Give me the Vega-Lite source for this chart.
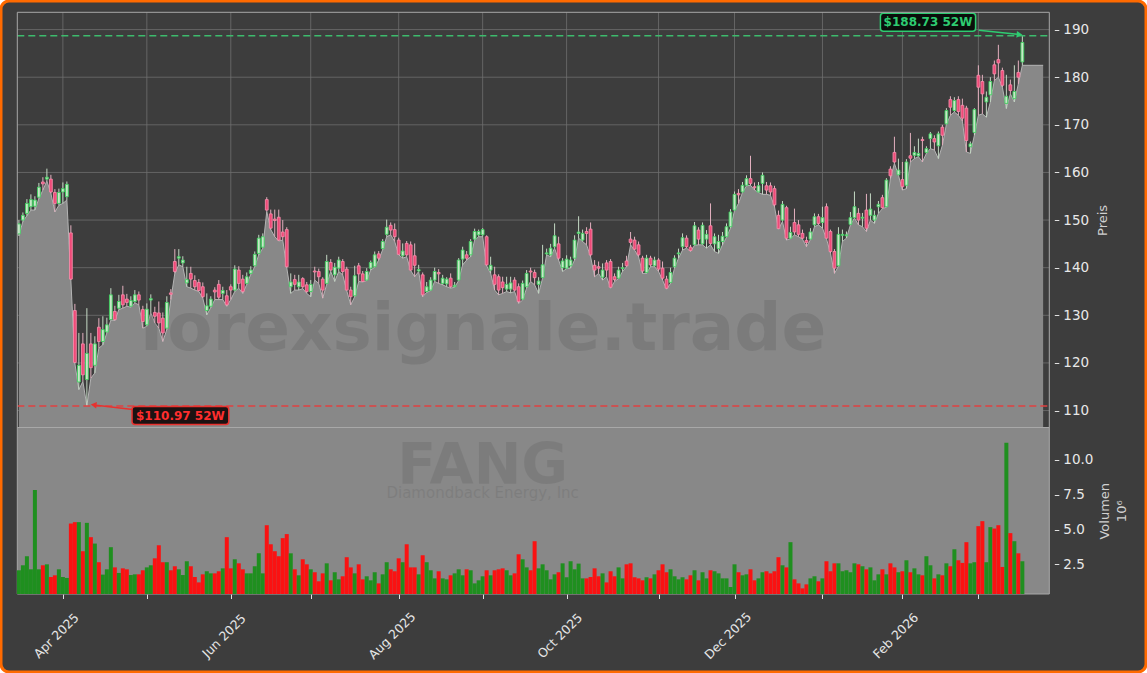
{
"$schema":"https://vega.github.io/schema/vega-lite/v6.json",
"width":1145,"height":671,"padding":1,"autosize":{"type":"none"},
"background":"#ffffff",
"config":{"view":{"fill":"#3d3d3d","stroke":"#ff6a00","strokeWidth":3,"cornerRadius":8},"font":"DejaVu Sans"},
"data":{"name":"ohlc"},
"datasets":{"ohlc":[
{"d":"2025-03-17","i":0,"o":147.1,"h":150.0,"l":146.7,"c":149.2,"v":2.07},
{"d":"2025-03-18","i":1,"o":150.0,"h":151.6,"l":149.7,"c":151.0,"v":2.43},
{"d":"2025-03-19","i":2,"o":151.4,"h":154.4,"l":150.9,"c":153.5,"v":3.08},
{"d":"2025-03-20","i":3,"o":152.8,"h":155.4,"l":152.1,"c":154.3,"v":2.14},
{"d":"2025-03-21","i":4,"o":152.9,"h":155.0,"l":152.1,"c":154.2,"v":7.84},
{"d":"2025-03-24","i":5,"o":154.8,"h":157.8,"l":154.5,"c":156.9,"v":2.14},
{"d":"2025-03-25","i":6,"o":158.0,"h":159.0,"l":156.3,"c":157.6,"v":2.43},
{"d":"2025-03-26","i":7,"o":158.6,"h":160.8,"l":158.2,"c":159.0,"v":2.50},
{"d":"2025-03-27","i":8,"o":158.6,"h":159.5,"l":155.6,"c":155.9,"v":1.59},
{"d":"2025-03-28","i":9,"o":155.8,"h":156.5,"l":151.7,"c":153.5,"v":1.71},
{"d":"2025-03-31","i":10,"o":153.5,"h":156.6,"l":153.1,"c":155.8,"v":2.14},
{"d":"2025-04-01","i":11,"o":155.9,"h":157.9,"l":153.5,"c":156.6,"v":1.59},
{"d":"2025-04-02","i":12,"o":154.9,"h":158.1,"l":154.2,"c":157.5,"v":1.52},
{"d":"2025-04-03","i":13,"o":147.3,"h":148.9,"l":137.4,"c":137.6,"v":5.43},
{"d":"2025-04-04","i":14,"o":131.0,"h":132.4,"l":119.9,"c":120.1,"v":5.53},
{"d":"2025-04-07","i":15,"o":116.0,"h":126.3,"l":114.4,"c":119.5,"v":5.53},
{"d":"2025-04-08","i":16,"o":124.0,"h":126.3,"l":116.1,"c":117.5,"v":3.44},
{"d":"2025-04-09","i":17,"o":116.5,"h":131.5,"l":110.97,"c":122.0,"v":5.48},
{"d":"2025-04-10","i":18,"o":124.0,"h":126.3,"l":116.8,"c":119.0,"v":4.45},
{"d":"2025-04-11","i":19,"o":119.5,"h":125.6,"l":117.9,"c":124.0,"v":3.99},
{"d":"2025-04-14","i":20,"o":127.5,"h":129.4,"l":123.1,"c":124.5,"v":2.65},
{"d":"2025-04-15","i":21,"o":124.5,"h":129.8,"l":123.8,"c":127.0,"v":1.76},
{"d":"2025-04-16","i":22,"o":126.5,"h":129.5,"l":126.3,"c":128.0,"v":2.14},
{"d":"2025-04-17","i":23,"o":129.1,"h":135.7,"l":129.0,"c":134.3,"v":3.73},
{"d":"2025-04-21","i":24,"o":130.8,"h":132.0,"l":128.9,"c":129.1,"v":2.28},
{"d":"2025-04-22","i":25,"o":131.5,"h":134.3,"l":131.2,"c":132.9,"v":1.88},
{"d":"2025-04-23","i":26,"o":134.3,"h":136.2,"l":131.5,"c":132.2,"v":2.21},
{"d":"2025-04-24","i":27,"o":133.4,"h":134.5,"l":131.9,"c":132.7,"v":2.14},
{"d":"2025-04-25","i":28,"o":131.9,"h":134.0,"l":131.7,"c":133.1,"v":1.73},
{"d":"2025-04-28","i":29,"o":132.9,"h":135.3,"l":132.6,"c":134.3,"v":1.78},
{"d":"2025-04-29","i":30,"o":134.3,"h":135.0,"l":132.2,"c":133.2,"v":1.78},
{"d":"2025-04-30","i":31,"o":131.2,"h":132.0,"l":127.3,"c":128.7,"v":2.07},
{"d":"2025-05-01","i":32,"o":128.0,"h":132.5,"l":127.7,"c":131.3,"v":2.28},
{"d":"2025-05-02","i":33,"o":133.2,"h":134.4,"l":130.5,"c":133.5,"v":2.43},
{"d":"2025-05-05","i":34,"o":130.6,"h":131.8,"l":128.4,"c":129.8,"v":2.93},
{"d":"2025-05-06","i":35,"o":130.5,"h":132.9,"l":127.3,"c":128.4,"v":3.87},
{"d":"2025-05-07","i":36,"o":129.4,"h":130.6,"l":124.5,"c":126.3,"v":2.65},
{"d":"2025-05-08","i":37,"o":127.3,"h":134.0,"l":127.0,"c":132.7,"v":2.65},
{"d":"2025-05-09","i":38,"o":134.7,"h":135.5,"l":133.3,"c":134.4,"v":2.07},
{"d":"2025-05-12","i":39,"o":141.3,"h":143.9,"l":138.8,"c":139.2,"v":2.36},
{"d":"2025-05-13","i":40,"o":142.0,"h":143.9,"l":140.6,"c":142.3,"v":2.14},
{"d":"2025-05-14","i":41,"o":141.0,"h":142.4,"l":140.2,"c":141.6,"v":1.73},
{"d":"2025-05-15","i":42,"o":136.8,"h":140.2,"l":136.0,"c":137.5,"v":2.72},
{"d":"2025-05-16","i":43,"o":138.8,"h":140.2,"l":135.7,"c":137.6,"v":2.36},
{"d":"2025-05-19","i":44,"o":137.3,"h":138.4,"l":135.3,"c":136.0,"v":1.59},
{"d":"2025-05-20","i":45,"o":136.9,"h":137.6,"l":135.0,"c":135.2,"v":1.20},
{"d":"2025-05-21","i":46,"o":136.0,"h":136.9,"l":133.6,"c":133.9,"v":1.78},
{"d":"2025-05-22","i":47,"o":131.0,"h":134.6,"l":130.1,"c":132.0,"v":2.00},
{"d":"2025-05-23","i":48,"o":131.9,"h":134.0,"l":131.6,"c":133.4,"v":1.85},
{"d":"2025-05-27","i":49,"o":135.3,"h":135.9,"l":133.3,"c":134.9,"v":1.85},
{"d":"2025-05-28","i":50,"o":136.5,"h":137.4,"l":133.3,"c":133.8,"v":2.00},
{"d":"2025-05-29","i":51,"o":134.6,"h":136.0,"l":133.3,"c":135.2,"v":2.21},
{"d":"2025-05-30","i":52,"o":134.1,"h":135.3,"l":131.9,"c":132.2,"v":4.45},
{"d":"2025-06-02","i":53,"o":136.0,"h":136.5,"l":133.3,"c":135.3,"v":2.21},
{"d":"2025-06-03","i":54,"o":135.3,"h":140.5,"l":135.0,"c":139.7,"v":2.86},
{"d":"2025-06-04","i":55,"o":139.5,"h":140.3,"l":135.7,"c":136.7,"v":2.57},
{"d":"2025-06-05","i":56,"o":137.6,"h":138.5,"l":134.6,"c":135.0,"v":2.14},
{"d":"2025-06-06","i":57,"o":136.7,"h":139.0,"l":136.5,"c":138.1,"v":1.85},
{"d":"2025-06-09","i":58,"o":138.8,"h":140.3,"l":138.6,"c":139.5,"v":1.85},
{"d":"2025-06-10","i":59,"o":140.4,"h":143.4,"l":140.2,"c":142.8,"v":2.36},
{"d":"2025-06-11","i":60,"o":143.0,"h":146.9,"l":142.7,"c":146.2,"v":3.29},
{"d":"2025-06-12","i":61,"o":144.3,"h":147.2,"l":144.1,"c":146.5,"v":1.85},
{"d":"2025-06-13","i":62,"o":154.3,"h":154.8,"l":151.8,"c":152.1,"v":5.31},
{"d":"2025-06-16","i":63,"o":151.3,"h":152.2,"l":148.0,"c":148.3,"v":3.94},
{"d":"2025-06-17","i":64,"o":150.2,"h":152.2,"l":146.5,"c":149.9,"v":3.44},
{"d":"2025-06-18","i":65,"o":150.6,"h":152.2,"l":145.6,"c":145.8,"v":3.08},
{"d":"2025-06-20","i":66,"o":147.5,"h":150.0,"l":145.8,"c":146.5,"v":4.38},
{"d":"2025-06-23","i":67,"o":148.0,"h":148.5,"l":140.0,"c":140.2,"v":4.67},
{"d":"2025-06-24","i":68,"o":136.0,"h":138.8,"l":134.6,"c":137.0,"v":3.29},
{"d":"2025-06-25","i":69,"o":137.5,"h":138.5,"l":135.3,"c":136.5,"v":2.14},
{"d":"2025-06-26","i":70,"o":136.0,"h":138.5,"l":135.3,"c":137.0,"v":1.71},
{"d":"2025-06-27","i":71,"o":137.7,"h":138.0,"l":135.6,"c":136.0,"v":2.86},
{"d":"2025-06-30","i":72,"o":136.4,"h":137.0,"l":134.6,"c":135.0,"v":2.50},
{"d":"2025-07-01","i":73,"o":135.0,"h":137.4,"l":133.9,"c":136.5,"v":2.14},
{"d":"2025-07-02","i":74,"o":139.3,"h":140.2,"l":137.4,"c":139.1,"v":1.93},
{"d":"2025-07-03","i":75,"o":139.2,"h":139.8,"l":136.7,"c":138.1,"v":1.28},
{"d":"2025-07-07","i":76,"o":137.6,"h":138.0,"l":133.6,"c":135.3,"v":1.85},
{"d":"2025-07-08","i":77,"o":136.7,"h":142.7,"l":136.5,"c":141.3,"v":2.57},
{"d":"2025-07-09","i":78,"o":141.1,"h":141.8,"l":139.2,"c":139.5,"v":1.35},
{"d":"2025-07-10","i":79,"o":138.5,"h":141.0,"l":137.1,"c":140.1,"v":1.93},
{"d":"2025-07-11","i":80,"o":139.9,"h":142.3,"l":139.2,"c":141.6,"v":1.42},
{"d":"2025-07-14","i":81,"o":141.3,"h":141.8,"l":138.5,"c":139.2,"v":1.64},
{"d":"2025-07-15","i":82,"o":139.7,"h":140.2,"l":135.2,"c":135.3,"v":3.01},
{"d":"2025-07-16","i":83,"o":135.3,"h":136.0,"l":132.2,"c":133.9,"v":2.28},
{"d":"2025-07-17","i":84,"o":134.1,"h":140.4,"l":133.9,"c":138.3,"v":1.85},
{"d":"2025-07-18","i":85,"o":140.4,"h":141.0,"l":137.1,"c":138.7,"v":2.50},
{"d":"2025-07-21","i":86,"o":138.7,"h":139.3,"l":137.0,"c":137.1,"v":1.42},
{"d":"2025-07-22","i":87,"o":137.4,"h":139.9,"l":137.3,"c":139.2,"v":1.64},
{"d":"2025-07-23","i":88,"o":139.9,"h":141.5,"l":139.5,"c":141.1,"v":1.35},
{"d":"2025-07-24","i":89,"o":140.2,"h":143.4,"l":140.1,"c":142.7,"v":1.93},
{"d":"2025-07-25","i":90,"o":142.9,"h":143.5,"l":141.6,"c":142.0,"v":1.13},
{"d":"2025-07-28","i":91,"o":144.0,"h":146.0,"l":143.8,"c":145.5,"v":1.78},
{"d":"2025-07-29","i":92,"o":147.0,"h":150.1,"l":146.5,"c":148.5,"v":2.65},
{"d":"2025-07-30","i":93,"o":148.9,"h":149.5,"l":146.9,"c":147.9,"v":2.14},
{"d":"2025-07-31","i":94,"o":148.0,"h":149.3,"l":145.5,"c":146.5,"v":2.00},
{"d":"2025-08-01","i":95,"o":145.8,"h":146.3,"l":142.7,"c":142.8,"v":2.93},
{"d":"2025-08-04","i":96,"o":142.5,"h":145.1,"l":142.0,"c":143.5,"v":2.65},
{"d":"2025-08-05","i":97,"o":145.1,"h":145.6,"l":142.3,"c":142.7,"v":3.94},
{"d":"2025-08-06","i":98,"o":144.8,"h":145.5,"l":139.4,"c":139.5,"v":2.28},
{"d":"2025-08-07","i":99,"o":142.5,"h":145.1,"l":138.1,"c":140.5,"v":2.28},
{"d":"2025-08-08","i":100,"o":139.3,"h":140.6,"l":139.2,"c":139.6,"v":1.78},
{"d":"2025-08-11","i":101,"o":138.5,"h":139.0,"l":133.9,"c":134.3,"v":3.15},
{"d":"2025-08-12","i":102,"o":135.0,"h":137.0,"l":134.8,"c":136.0,"v":2.65},
{"d":"2025-08-13","i":103,"o":135.3,"h":138.0,"l":135.2,"c":137.4,"v":2.07},
{"d":"2025-08-14","i":104,"o":137.4,"h":140.0,"l":137.1,"c":139.2,"v":1.49},
{"d":"2025-08-15","i":105,"o":139.0,"h":139.7,"l":136.7,"c":138.7,"v":2.00},
{"d":"2025-08-18","i":106,"o":136.7,"h":138.5,"l":136.4,"c":137.8,"v":1.49},
{"d":"2025-08-19","i":107,"o":136.6,"h":138.0,"l":136.0,"c":137.6,"v":1.42},
{"d":"2025-08-20","i":108,"o":137.8,"h":138.8,"l":135.7,"c":136.0,"v":1.71},
{"d":"2025-08-21","i":109,"o":136.0,"h":137.0,"l":135.9,"c":136.3,"v":1.85},
{"d":"2025-08-22","i":110,"o":137.4,"h":142.0,"l":137.3,"c":141.6,"v":2.14},
{"d":"2025-08-25","i":111,"o":141.8,"h":144.4,"l":140.6,"c":143.7,"v":1.71},
{"d":"2025-08-26","i":112,"o":142.7,"h":143.5,"l":141.6,"c":142.0,"v":2.14},
{"d":"2025-08-27","i":113,"o":142.7,"h":146.0,"l":142.3,"c":145.5,"v":2.07},
{"d":"2025-08-28","i":114,"o":146.0,"h":148.2,"l":145.8,"c":147.6,"v":1.13},
{"d":"2025-08-29","i":115,"o":146.9,"h":148.0,"l":146.5,"c":147.6,"v":1.35},
{"d":"2025-09-02","i":116,"o":146.9,"h":148.3,"l":146.5,"c":148.0,"v":1.64},
{"d":"2025-09-03","i":117,"o":146.5,"h":146.8,"l":140.4,"c":140.6,"v":2.07},
{"d":"2025-09-04","i":118,"o":139.5,"h":142.3,"l":138.8,"c":140.5,"v":1.71},
{"d":"2025-09-05","i":119,"o":138.5,"h":140.2,"l":135.3,"c":136.5,"v":2.07},
{"d":"2025-09-08","i":120,"o":138.1,"h":138.6,"l":134.3,"c":135.3,"v":2.14},
{"d":"2025-09-09","i":121,"o":137.0,"h":138.1,"l":134.6,"c":135.8,"v":2.21},
{"d":"2025-09-10","i":122,"o":135.5,"h":138.1,"l":135.0,"c":136.5,"v":2.07},
{"d":"2025-09-11","i":123,"o":135.5,"h":138.1,"l":134.7,"c":136.8,"v":1.71},
{"d":"2025-09-12","i":124,"o":137.4,"h":138.0,"l":135.0,"c":135.3,"v":1.85},
{"d":"2025-09-15","i":125,"o":136.0,"h":136.7,"l":132.5,"c":132.9,"v":3.22},
{"d":"2025-09-16","i":126,"o":133.4,"h":137.3,"l":133.2,"c":136.7,"v":2.86},
{"d":"2025-09-17","i":127,"o":136.0,"h":139.5,"l":135.7,"c":138.8,"v":2.28},
{"d":"2025-09-18","i":128,"o":139.3,"h":140.0,"l":137.1,"c":139.1,"v":2.07},
{"d":"2025-09-19","i":129,"o":139.0,"h":139.6,"l":136.4,"c":137.9,"v":4.16},
{"d":"2025-09-22","i":130,"o":136.5,"h":138.0,"l":134.6,"c":137.2,"v":2.21},
{"d":"2025-09-23","i":131,"o":137.9,"h":144.8,"l":137.8,"c":140.6,"v":2.50},
{"d":"2025-09-24","i":132,"o":142.9,"h":144.0,"l":142.7,"c":143.1,"v":2.07},
{"d":"2025-09-25","i":133,"o":142.7,"h":145.0,"l":142.3,"c":144.1,"v":1.42},
{"d":"2025-09-26","i":134,"o":144.4,"h":149.3,"l":144.1,"c":146.7,"v":1.78},
{"d":"2025-09-29","i":135,"o":145.0,"h":146.5,"l":141.6,"c":142.0,"v":1.93},
{"d":"2025-09-30","i":136,"o":140.0,"h":142.0,"l":139.2,"c":141.4,"v":2.57},
{"d":"2025-10-01","i":137,"o":139.9,"h":142.6,"l":139.8,"c":141.8,"v":1.57},
{"d":"2025-10-02","i":138,"o":140.4,"h":142.3,"l":139.9,"c":141.6,"v":2.72},
{"d":"2025-10-03","i":139,"o":142.0,"h":146.8,"l":141.6,"c":145.8,"v":2.14},
{"d":"2025-10-06","i":140,"o":147.2,"h":150.8,"l":146.2,"c":147.5,"v":2.55},
{"d":"2025-10-07","i":141,"o":145.8,"h":148.0,"l":145.5,"c":147.2,"v":1.49},
{"d":"2025-10-08","i":142,"o":147.6,"h":148.5,"l":144.8,"c":147.2,"v":1.49},
{"d":"2025-10-09","i":143,"o":148.1,"h":149.5,"l":142.3,"c":142.7,"v":1.59},
{"d":"2025-10-10","i":144,"o":140.5,"h":141.6,"l":138.1,"c":139.5,"v":2.21},
{"d":"2025-10-13","i":145,"o":140.2,"h":141.3,"l":138.8,"c":139.9,"v":1.64},
{"d":"2025-10-14","i":146,"o":138.0,"h":140.9,"l":137.4,"c":139.5,"v":1.85},
{"d":"2025-10-15","i":147,"o":141.0,"h":141.6,"l":138.1,"c":139.5,"v":1.20},
{"d":"2025-10-16","i":148,"o":141.3,"h":141.8,"l":135.7,"c":135.9,"v":2.00},
{"d":"2025-10-17","i":149,"o":138.1,"h":138.8,"l":137.1,"c":137.5,"v":1.64},
{"d":"2025-10-20","i":150,"o":137.8,"h":140.2,"l":137.7,"c":139.5,"v":2.28},
{"d":"2025-10-21","i":151,"o":139.8,"h":141.0,"l":139.2,"c":140.0,"v":1.49},
{"d":"2025-10-22","i":152,"o":141.4,"h":142.5,"l":140.2,"c":140.4,"v":2.50},
{"d":"2025-10-23","i":153,"o":146.0,"h":147.5,"l":144.8,"c":145.3,"v":2.57},
{"d":"2025-10-24","i":154,"o":145.8,"h":146.5,"l":143.7,"c":143.9,"v":1.57},
{"d":"2025-10-27","i":155,"o":144.8,"h":145.5,"l":142.3,"c":142.7,"v":1.49},
{"d":"2025-10-28","i":156,"o":142.0,"h":142.5,"l":138.8,"c":139.3,"v":1.35},
{"d":"2025-10-29","i":157,"o":139.0,"h":142.7,"l":138.8,"c":142.0,"v":1.57},
{"d":"2025-10-30","i":158,"o":142.0,"h":142.5,"l":140.2,"c":140.6,"v":1.49},
{"d":"2025-10-31","i":159,"o":140.4,"h":142.3,"l":140.2,"c":141.6,"v":1.78},
{"d":"2025-11-03","i":160,"o":141.6,"h":142.0,"l":139.2,"c":139.7,"v":2.07},
{"d":"2025-11-04","i":161,"o":139.9,"h":141.3,"l":137.4,"c":137.8,"v":2.50},
{"d":"2025-11-05","i":162,"o":137.6,"h":138.3,"l":135.5,"c":135.7,"v":1.93},
{"d":"2025-11-06","i":163,"o":136.9,"h":140.0,"l":136.7,"c":139.0,"v":2.14},
{"d":"2025-11-07","i":164,"o":140.2,"h":142.6,"l":139.9,"c":142.0,"v":1.64},
{"d":"2025-11-10","i":165,"o":142.9,"h":144.0,"l":142.0,"c":143.1,"v":1.42},
{"d":"2025-11-11","i":166,"o":144.4,"h":147.2,"l":143.7,"c":146.3,"v":1.57},
{"d":"2025-11-12","i":167,"o":146.2,"h":146.8,"l":144.1,"c":144.4,"v":1.42},
{"d":"2025-11-13","i":168,"o":144.3,"h":144.8,"l":143.4,"c":143.6,"v":1.71},
{"d":"2025-11-14","i":169,"o":144.8,"h":149.6,"l":144.7,"c":148.8,"v":2.07},
{"d":"2025-11-17","i":170,"o":147.9,"h":148.5,"l":144.8,"c":146.0,"v":1.35},
{"d":"2025-11-18","i":171,"o":145.0,"h":149.5,"l":144.8,"c":148.9,"v":1.93},
{"d":"2025-11-19","i":172,"o":146.0,"h":147.9,"l":144.1,"c":147.0,"v":1.49},
{"d":"2025-11-20","i":173,"o":148.8,"h":153.5,"l":144.8,"c":145.1,"v":2.07},
{"d":"2025-11-21","i":174,"o":145.0,"h":147.2,"l":143.4,"c":146.5,"v":2.00},
{"d":"2025-11-24","i":175,"o":144.0,"h":146.9,"l":143.0,"c":145.5,"v":1.85},
{"d":"2025-11-25","i":176,"o":145.5,"h":147.5,"l":144.8,"c":146.6,"v":1.49},
{"d":"2025-11-26","i":177,"o":146.5,"h":149.3,"l":146.4,"c":148.6,"v":1.49},
{"d":"2025-11-28","i":178,"o":148.6,"h":152.3,"l":148.3,"c":151.7,"v":0.87},
{"d":"2025-12-01","i":179,"o":152.1,"h":156.0,"l":152.0,"c":155.4,"v":2.50},
{"d":"2025-12-02","i":180,"o":155.6,"h":156.5,"l":153.5,"c":155.3,"v":1.93},
{"d":"2025-12-03","i":181,"o":155.9,"h":158.0,"l":155.8,"c":157.3,"v":1.71},
{"d":"2025-12-04","i":182,"o":157.3,"h":159.4,"l":157.2,"c":158.7,"v":1.78},
{"d":"2025-12-05","i":183,"o":158.7,"h":163.5,"l":157.3,"c":157.7,"v":2.14},
{"d":"2025-12-08","i":184,"o":157.0,"h":157.9,"l":156.3,"c":156.8,"v":1.35},
{"d":"2025-12-09","i":185,"o":155.9,"h":158.0,"l":155.8,"c":157.2,"v":1.49},
{"d":"2025-12-10","i":186,"o":157.7,"h":160.0,"l":155.4,"c":159.4,"v":1.93},
{"d":"2025-12-11","i":187,"o":157.2,"h":158.0,"l":155.4,"c":156.3,"v":2.00},
{"d":"2025-12-12","i":188,"o":157.2,"h":157.9,"l":155.2,"c":155.9,"v":1.85},
{"d":"2025-12-15","i":189,"o":156.6,"h":157.2,"l":152.8,"c":153.2,"v":2.00},
{"d":"2025-12-16","i":190,"o":151.0,"h":152.0,"l":148.1,"c":148.2,"v":3.01},
{"d":"2025-12-17","i":191,"o":150.0,"h":154.0,"l":149.7,"c":153.3,"v":2.43},
{"d":"2025-12-18","i":192,"o":152.6,"h":153.0,"l":145.8,"c":146.2,"v":2.28},
{"d":"2025-12-19","i":193,"o":146.2,"h":148.6,"l":146.1,"c":147.4,"v":4.09},
{"d":"2025-12-22","i":194,"o":149.5,"h":152.4,"l":146.9,"c":147.5,"v":1.42},
{"d":"2025-12-23","i":195,"o":149.0,"h":150.0,"l":146.5,"c":147.0,"v":1.13},
{"d":"2025-12-24","i":196,"o":147.2,"h":148.0,"l":146.0,"c":146.2,"v":0.77},
{"d":"2025-12-26","i":197,"o":145.7,"h":146.5,"l":144.4,"c":145.3,"v":1.06},
{"d":"2025-12-29","i":198,"o":146.0,"h":148.3,"l":145.9,"c":147.5,"v":1.49},
{"d":"2025-12-30","i":199,"o":149.0,"h":151.4,"l":148.6,"c":150.7,"v":1.64},
{"d":"2025-12-31","i":200,"o":150.7,"h":151.3,"l":149.0,"c":149.3,"v":1.28},
{"d":"2026-01-02","i":201,"o":149.5,"h":152.8,"l":148.3,"c":150.5,"v":1.49},
{"d":"2026-01-05","i":202,"o":152.8,"h":153.5,"l":146.1,"c":146.2,"v":2.72},
{"d":"2026-01-06","i":203,"o":147.6,"h":148.0,"l":143.0,"c":143.4,"v":2.00},
{"d":"2026-01-07","i":204,"o":143.4,"h":143.9,"l":138.8,"c":139.9,"v":2.57},
{"d":"2026-01-08","i":205,"o":140.4,"h":148.5,"l":140.3,"c":147.0,"v":2.57},
{"d":"2026-01-09","i":206,"o":146.8,"h":148.0,"l":145.5,"c":147.0,"v":2.00},
{"d":"2026-01-12","i":207,"o":146.7,"h":147.6,"l":146.2,"c":146.9,"v":2.07},
{"d":"2026-01-13","i":208,"o":149.1,"h":151.7,"l":149.0,"c":150.5,"v":1.93},
{"d":"2026-01-14","i":209,"o":150.5,"h":156.0,"l":150.4,"c":152.8,"v":2.57},
{"d":"2026-01-15","i":210,"o":151.4,"h":152.5,"l":149.0,"c":150.0,"v":2.50},
{"d":"2026-01-16","i":211,"o":150.4,"h":151.5,"l":148.6,"c":150.6,"v":2.36},
{"d":"2026-01-20","i":212,"o":152.1,"h":155.5,"l":147.6,"c":148.3,"v":2.14},
{"d":"2026-01-21","i":213,"o":151.0,"h":155.6,"l":150.0,"c":152.3,"v":2.28},
{"d":"2026-01-22","i":214,"o":150.0,"h":152.0,"l":149.3,"c":151.0,"v":1.35},
{"d":"2026-01-23","i":215,"o":152.8,"h":154.0,"l":151.4,"c":153.3,"v":1.78},
{"d":"2026-01-26","i":216,"o":154.7,"h":155.3,"l":152.4,"c":152.6,"v":2.14},
{"d":"2026-01-27","i":217,"o":152.8,"h":158.8,"l":152.7,"c":158.4,"v":1.78},
{"d":"2026-01-28","i":218,"o":160.7,"h":161.3,"l":158.7,"c":159.3,"v":2.57},
{"d":"2026-01-29","i":219,"o":164.2,"h":167.5,"l":161.9,"c":162.2,"v":2.28},
{"d":"2026-01-30","i":220,"o":159.5,"h":162.9,"l":159.4,"c":160.5,"v":1.93},
{"d":"2026-02-02","i":221,"o":158.5,"h":162.2,"l":156.3,"c":157.0,"v":2.00},
{"d":"2026-02-03","i":222,"o":157.3,"h":162.8,"l":156.6,"c":162.2,"v":2.79},
{"d":"2026-02-04","i":223,"o":163.5,"h":168.3,"l":162.2,"c":163.0,"v":1.93},
{"d":"2026-02-05","i":224,"o":163.6,"h":165.5,"l":162.9,"c":164.2,"v":2.21},
{"d":"2026-02-06","i":225,"o":163.5,"h":167.1,"l":163.3,"c":164.0,"v":1.78},
{"d":"2026-02-09","i":226,"o":166.9,"h":167.5,"l":162.2,"c":166.7,"v":1.71},
{"d":"2026-02-10","i":227,"o":164.2,"h":165.5,"l":164.0,"c":165.0,"v":3.08},
{"d":"2026-02-11","i":228,"o":167.1,"h":168.5,"l":165.0,"c":168.1,"v":2.43},
{"d":"2026-02-12","i":229,"o":167.1,"h":167.8,"l":164.7,"c":166.4,"v":1.49},
{"d":"2026-02-13","i":230,"o":165.6,"h":168.6,"l":162.9,"c":168.1,"v":1.78},
{"d":"2026-02-17","i":231,"o":169.5,"h":170.0,"l":165.7,"c":167.8,"v":1.71},
{"d":"2026-02-18","i":232,"o":170.2,"h":173.5,"l":170.1,"c":173.0,"v":2.57},
{"d":"2026-02-19","i":233,"o":175.3,"h":176.0,"l":172.0,"c":173.7,"v":2.36},
{"d":"2026-02-20","i":234,"o":173.0,"h":175.8,"l":172.7,"c":175.1,"v":3.58},
{"d":"2026-02-23","i":235,"o":175.3,"h":176.0,"l":172.0,"c":172.8,"v":2.79},
{"d":"2026-02-24","i":236,"o":174.1,"h":175.5,"l":170.8,"c":171.4,"v":2.60},
{"d":"2026-02-25","i":237,"o":173.5,"h":174.0,"l":164.3,"c":166.7,"v":4.09},
{"d":"2026-02-26","i":238,"o":165.4,"h":166.5,"l":164.0,"c":166.0,"v":2.57},
{"d":"2026-02-27","i":239,"o":168.4,"h":173.5,"l":167.8,"c":173.2,"v":2.65},
{"d":"2026-03-02","i":240,"o":180.4,"h":182.5,"l":172.0,"c":177.9,"v":5.24},
{"d":"2026-03-03","i":241,"o":179.1,"h":180.5,"l":172.3,"c":176.5,"v":5.60},
{"d":"2026-03-04","i":242,"o":174.8,"h":177.0,"l":171.6,"c":175.8,"v":2.65},
{"d":"2026-03-05","i":243,"o":176.3,"h":180.0,"l":174.8,"c":179.1,"v":5.17},
{"d":"2026-03-06","i":244,"o":182.6,"h":183.5,"l":179.3,"c":180.7,"v":5.07},
{"d":"2026-03-09","i":245,"o":183.7,"h":186.8,"l":180.0,"c":183.0,"v":5.31},
{"d":"2026-03-10","i":246,"o":181.4,"h":182.0,"l":177.9,"c":178.3,"v":2.31},
{"d":"2026-03-11","i":247,"o":174.5,"h":180.5,"l":173.4,"c":176.0,"v":11.23},
{"d":"2026-03-12","i":248,"o":178.4,"h":179.5,"l":176.5,"c":177.2,"v":4.74},
{"d":"2026-03-13","i":249,"o":175.5,"h":182.5,"l":174.8,"c":177.0,"v":4.16},
{"d":"2026-03-16","i":250,"o":181.0,"h":183.5,"l":178.6,"c":180.0,"v":3.29},
{"d":"2026-03-17","i":251,"o":183.2,"h":188.73,"l":182.5,"c":187.3,"v":2.72},
{"i":256.2,"l":182.5}
]},
"layer":[
{"layer":[
 {"data":{"values":[{"m":11},{"m":32},{"m":53},{"m":73},{"m":95},{"m":116},{"m":137},{"m":160},{"m":179},{"m":201},{"m":221},{"m":240}]},
  "mark":{"type":"rule","color":"#6e6e6e","strokeWidth":0.8},
  "encoding":{"x":{"field":"m","type":"quantitative","title":null},"y":{"datum":106.44,"type":"quantitative"},"y2":{"datum":193.63}}},
 {"data":{"values":[{"p":110},{"p":120},{"p":130},{"p":140},{"p":150},{"p":160},{"p":170},{"p":180},{"p":190}]},
  "mark":{"type":"rule","color":"#6e6e6e","strokeWidth":0.8},
  "encoding":{"y":{"field":"p","type":"quantitative"},"x":{"datum":-0.4,"type":"quantitative"},"x2":{"datum":257.74}}},
 {"mark":{"type":"area","color":"#888888","opacity":1,"fillOpacity":1,"line":{"color":"#b4b4b4","strokeWidth":1}},
  "encoding":{
   "x":{"field":"i","type":"quantitative","scale":{"domain":[-0.4,257.74],"range":[11.3,1053.3],"nice":false,"zero":false},
    "axis":{"orient":"bottom","offset":-78,"values":[11,32,53,73,95,116,137,160,179,201,221,240],
    "labelExpr":"datum.value==11?'Apr 2025':datum.value==53?'Jun 2025':datum.value==95?'Aug 2025':datum.value==137?'Oct 2025':datum.value==179?'Dec 2025':datum.value==221?'Feb 2026':''",
    "grid":false,"domain":false,"tickColor":"#e0e0e0","tickSize":4.5,"tickWidth":1,"labelColor":"#e6e6e6","labelFontSize":12.5,"labelAngle":-45,"labelAlign":"center","labelBaseline":"middle","labelPadding":37,"labelOffset":-7,"title":null,"labelOverlap":false,"labelFlush":false}},
   "y":{"field":"l","type":"quantitative","scale":{"domain":[106.44,193.63],"range":[426.5,11.3],"nice":false,"zero":false},
    "axis":{"orient":"right","offset":-91.7,"values":[110,120,130,140,150,160,170,180,190],"grid":false,"domain":false,"tickColor":"#e0e0e0","tickSize":4.5,"labelColor":"#e8e8e8","labelFontSize":13.5,"labelPadding":4,"title":"Preis","titleColor":"#d0d0d0","titleFontSize":13,"titleFontWeight":"normal","titleAngle":270,"titleBaseline":"top","titlePadding":8}},
   "y2":{"datum":106.44}}},
 {"data":{"values":[{}]},"mark":{"type":"text","text":"forexsignale.trade","fontSize":66,"fontWeight":"bold","fill":"#000000","opacity":0.09,"align":"center","baseline":"alphabetic"},
  "encoding":{"x":{"datum":115.96,"type":"quantitative"},"y":{"datum":122.78,"type":"quantitative"}}},
 {"transform":[{"filter":"isValid(datum.o)"}],"mark":{"type":"rule","strokeWidth":1},
  "encoding":{"x":{"field":"i","type":"quantitative"},"y":{"field":"l","type":"quantitative"},"y2":{"field":"h"},
   "color":{"condition":{"test":"datum.c >= datum.o","value":"#c4d9c4"},"value":"#e3b0bf"}}},
 {"transform":[{"filter":"isValid(datum.o)"}],"mark":{"type":"bar","width":2.8,"strokeWidth":0.9,"opacity":1},
  "encoding":{"x":{"field":"i","type":"quantitative"},"y":{"field":"o","type":"quantitative"},"y2":{"field":"c"},
   "fill":{"condition":{"test":"datum.c >= datum.o","value":"#c8e6c8"},"value":"#ef4a78"},
   "stroke":{"condition":{"test":"datum.c >= datum.o","value":"#3fd160"},"value":"#f48aa8"}}},
 {"data":{"values":[{}]},"mark":{"type":"rule","color":"#3dbb6d","strokeWidth":1.5,"strokeDash":[7,4]},
  "encoding":{"x":{"datum":-0.4,"type":"quantitative"},"x2":{"datum":257.74},"y":{"datum":188.73,"type":"quantitative"}}},
 {"data":{"values":[{}]},"mark":{"type":"rule","color":"#e04040","strokeWidth":1.5,"strokeDash":[7,4]},
  "encoding":{"x":{"datum":-0.4,"type":"quantitative"},"x2":{"datum":257.74},"y":{"datum":110.97,"type":"quantitative"}}},
 {"data":{"values":[{}]},"mark":{"type":"rule","color":"#2ecc71","strokeWidth":1.6},
  "encoding":{"x":{"datum":240.1,"type":"quantitative"},"x2":{"datum":249.7},"y":{"datum":189.85,"type":"quantitative"},"y2":{"datum":189.01}}},
 {"data":{"values":[{}]},"mark":{"type":"point","shape":"triangle-right","filled":true,"color":"#2ecc71","size":45,"angle":5,"opacity":1},
  "encoding":{"x":{"datum":250.3,"type":"quantitative"},"y":{"datum":188.95,"type":"quantitative"}}},
 {"data":{"values":[{}]},"mark":{"type":"rect","fill":"#0a0f0b","stroke":"#2ecc71","strokeWidth":1.5,"cornerRadius":3},
  "encoding":{"x":{"datum":215.5,"type":"quantitative"},"x2":{"datum":239.3},"y":{"datum":189.64,"type":"quantitative"},"y2":{"datum":193.42}}},
 {"data":{"values":[{}]},"mark":{"type":"text","text":"$188.73 52W","fontSize":12,"fontWeight":"bold","fill":"#2ecc71","align":"center","baseline":"middle"},
  "encoding":{"x":{"datum":227.4,"type":"quantitative"},"y":{"datum":191.53,"type":"quantitative"}}},
 {"data":{"values":[{}]},"mark":{"type":"rule","color":"#e8322f","strokeWidth":1.6},
  "encoding":{"x":{"datum":28.5,"type":"quantitative"},"x2":{"datum":19.3},"y":{"datum":110.21,"type":"quantitative"},"y2":{"datum":111.1}}},
 {"data":{"values":[{}]},"mark":{"type":"point","shape":"triangle-left","filled":true,"color":"#e8322f","size":45,"angle":6,"opacity":1},
  "encoding":{"x":{"datum":18.7,"type":"quantitative"},"y":{"datum":111.18,"type":"quantitative"}}},
 {"data":{"values":[{}]},"mark":{"type":"rect","fill":"#1c1212","stroke":"#e8322f","strokeWidth":1.5,"cornerRadius":3},
  "encoding":{"x":{"datum":28.3,"type":"quantitative"},"x2":{"datum":52.5},"y":{"datum":107.07,"type":"quantitative"},"y2":{"datum":110.84}}},
 {"data":{"values":[{}]},"mark":{"type":"text","text":"$110.97 52W","fontSize":12,"fontWeight":"bold","fill":"#ff2e2e","align":"center","baseline":"middle"},
  "encoding":{"x":{"datum":40.4,"type":"quantitative"},"y":{"datum":108.95,"type":"quantitative"}}},
 {"data":{"values":[{}]},"mark":{"type":"rect","fillOpacity":0,"stroke":"#a8a8a8","strokeWidth":1},
  "encoding":{"x":{"datum":-0.4,"type":"quantitative"},"x2":{"datum":257.74},"y":{"datum":106.44,"type":"quantitative"},"y2":{"datum":193.63}}}
]},
{"layer":[
 {"data":{"values":[{}]},"mark":{"type":"rect","fill":"#888888","stroke":"#a8a8a8","strokeWidth":1,"opacity":1},
  "encoding":{"x":{"datum":-0.4,"type":"quantitative"},"x2":{"datum":257.74},
   "y":{"datum":0.367,"type":"quantitative","scale":{"domain":[0.367,12.33],"range":[593,426.5],"nice":false,"zero":false},
    "axis":{"orient":"right","offset":-91.7,"values":[2.5,5,7.5,10],"format":".1f","grid":false,"domain":false,"tickColor":"#e0e0e0","tickSize":4.5,"labelColor":"#e8e8e8","labelFontSize":13.5,"labelPadding":4,"title":["Volumen","10⁶"],"titleColor":"#d0d0d0","titleFontSize":13,"titleFontWeight":"normal","titleAngle":270,"titleBaseline":"top","titlePadding":-11,"titleLineHeight":17}},
   "y2":{"datum":12.33}}},
 {"data":{"values":[{}]},"mark":{"type":"text","text":"FANG","fontSize":57,"fontWeight":"bold","fill":"#000000","opacity":0.08,"align":"center","baseline":"alphabetic"},
  "encoding":{"x":{"datum":116,"type":"quantitative"},"y":{"datum":8.3,"type":"quantitative"}}},
 {"data":{"values":[{}]},"mark":{"type":"text","text":"Diamondback Energy, Inc","fontSize":15,"fill":"#000000","opacity":0.07,"align":"center","baseline":"alphabetic"},
  "encoding":{"x":{"datum":116,"type":"quantitative"},"y":{"datum":7.26,"type":"quantitative"}}},
 {"transform":[{"filter":"isValid(datum.o)"}],"mark":{"type":"bar","width":4,"opacity":1},
  "encoding":{"x":{"field":"i","type":"quantitative"},"y":{"field":"v","type":"quantitative"},"y2":{"datum":0.367},
   "color":{"condition":{"test":"datum.c >= datum.o","value":"#1f8f1f"},"value":"#fa1212"}}}
]}
],
"resolve":{"scale":{"y":"independent"},"axis":{"y":"independent"}}
}
